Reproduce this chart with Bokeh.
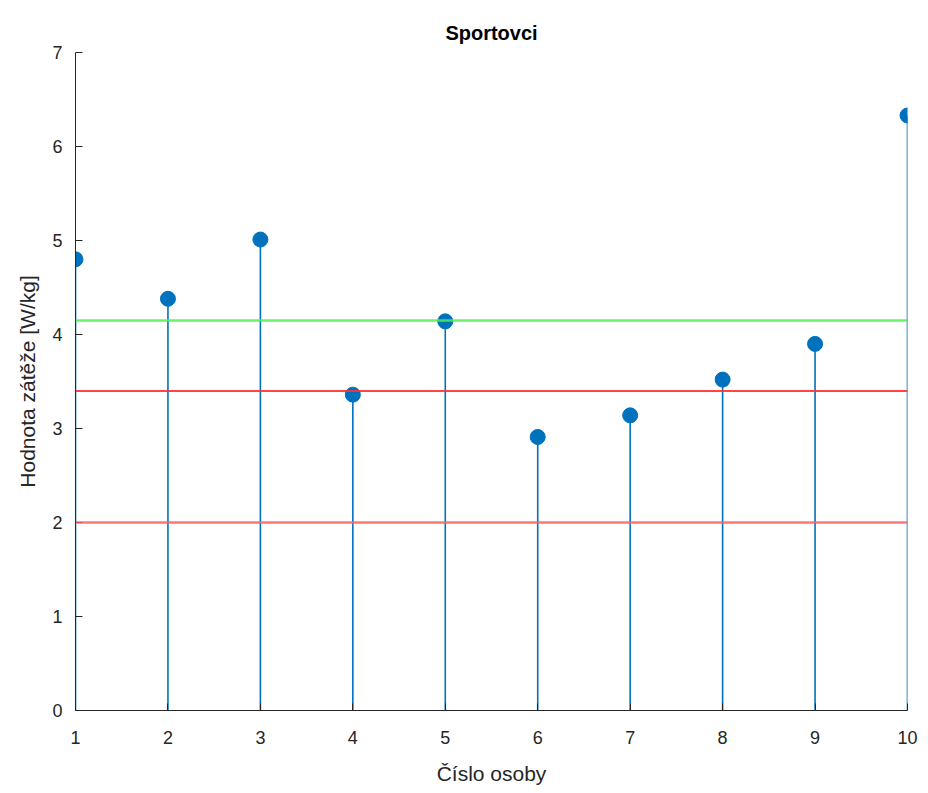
from bokeh.plotting import figure
from bokeh.models import Span, Range1d, FixedTicker
from bokeh.embed import file_html
from bokeh.resources import INLINE

persons = [1, 2, 3, 4, 5, 6, 7, 8, 9, 10]
values = [4.80, 4.38, 5.01, 3.36, 4.14, 2.91, 3.14, 3.52, 3.90, 6.33]
green_level = 4.15
red_level = 3.40
lightred_level = 2.00
x_ticks = [1, 2, 3, 4, 5, 6, 7, 8, 9, 10]
y_ticks = [0, 1, 2, 3, 4, 5, 6, 7]

FONT = "Liberation Sans"
TXT = "#262626"
BLUE = "#0072BD"

p = figure(width=920, height=793, output_backend="svg", toolbar_location=None,
           x_range=Range1d(1, 10), y_range=Range1d(0, 7),
           min_border_left=75, min_border_right=13, min_border_top=52, min_border_bottom=83)

p.title.text = "Sportovci"
p.title.align = "center"
p.title.text_font = FONT
p.title.text_font_size = "20px"
p.title.text_font_style = "bold"
p.title.text_color = "#000000"
p.title.offset = 0
p.title.standoff = 17

p.grid.visible = False
p.outline_line_color = None

for ax in (p.xaxis[0], p.yaxis[0]):
    ax.axis_line_color = TXT
    ax.axis_line_width = 1
    ax.major_tick_in = 7
    ax.major_tick_out = 0
    ax.minor_tick_line_color = None
    ax.major_tick_line_color = TXT
    ax.major_label_text_font = FONT
    ax.major_label_text_font_size = "18px"
    ax.major_label_text_color = TXT
    ax.axis_label_text_font = FONT
    ax.axis_label_text_font_size = "21px"
    ax.axis_label_text_font_style = "normal"
    ax.axis_label_text_color = TXT

p.xaxis.ticker = FixedTicker(ticks=x_ticks)
p.yaxis.ticker = FixedTicker(ticks=y_ticks)
p.xaxis.axis_label = "Číslo osoby"
p.yaxis.axis_label = "Hodnota zátěže [W/kg]"
p.xaxis.major_label_standoff = 20
p.yaxis.major_label_standoff = 13
p.xaxis.axis_label_standoff = 15
p.yaxis.axis_label_standoff = 10

p.add_layout(Span(location=green_level, dimension="width", line_color="#4cf04c", line_width=2.5, line_alpha=0.85))
p.add_layout(Span(location=red_level, dimension="width", line_color="#ff3030", line_width=2.0, line_alpha=0.9))
p.add_layout(Span(location=lightred_level, dimension="width", line_color="#ff6060", line_width=2.5, line_alpha=0.85))

p.segment(x0=persons, y0=[0] * len(persons), x1=persons, y1=values, line_color=BLUE, line_width=1.6)
p.scatter(x=persons, y=values, size=15, marker="circle", fill_color=BLUE, line_color=BLUE)

open("out.html", "w").write(file_html(p, INLINE))
